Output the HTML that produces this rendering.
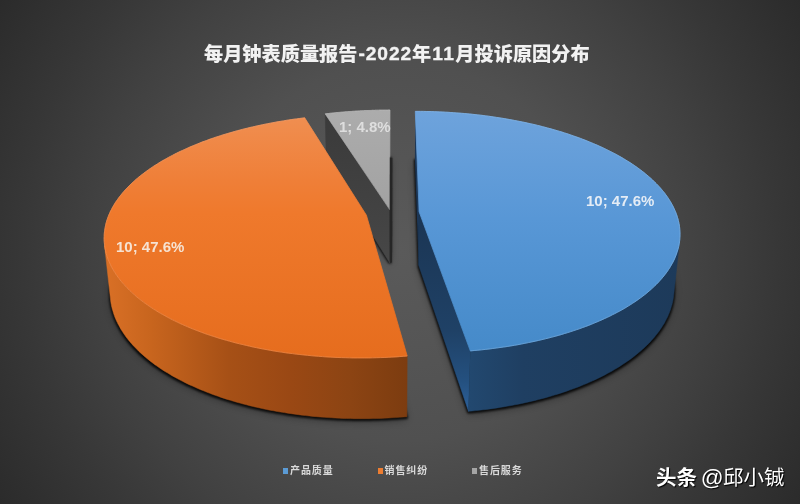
<!DOCTYPE html>
<html><head><meta charset="utf-8"><style>
html,body{margin:0;padding:0;background:#2b2b2b;}
#c{position:relative;width:800px;height:504px;overflow:hidden;}
svg{position:absolute;left:0;top:0;}
.t{position:absolute;white-space:nowrap;font-family:"Liberation Sans","Noto Sans CJK SC",sans-serif;}
#title{left:204px;top:43px;font-size:19.2px;font-weight:900;color:#f2f2f2;line-height:24px;}
.ls{letter-spacing:0.9px;margin-left:1px;position:relative;top:-0.8px;-webkit-text-stroke:0.35px #f2f2f2;}.ls2{letter-spacing:1.4px;margin-left:1px;position:relative;top:-0.8px;-webkit-text-stroke:0.35px #f2f2f2;}
.lbl{font-size:15px;font-weight:bold;line-height:16px;}
.lg{font-size:10px;color:#d9d9d9;line-height:12px;font-weight:bold;letter-spacing:0.9px;}
.sq{position:absolute;width:5px;height:6px;}
#wm{left:656px;top:466px;font-size:20.5px;color:#fff;line-height:24px;text-shadow:1px 1px 1px #000;}
</style></head><body><div id="c">
<svg width="800" height="504" viewBox="0 0 800 504">
<defs>
<filter id="sh0" x="-50%" y="-20%" width="200%" height="140%"><feGaussianBlur stdDeviation="0.6"/></filter>
<filter id="sh1" x="-20%" y="-20%" width="140%" height="140%"><feMorphology operator="dilate" radius="0.8"/><feGaussianBlur stdDeviation="1.1"/></filter>
<filter id="sh2" x="-20%" y="-20%" width="140%" height="140%"><feGaussianBlur stdDeviation="4"/></filter>
<linearGradient id="bTop" gradientUnits="userSpaceOnUse" x1="0" y1="110" x2="0" y2="352"><stop offset="0" stop-color="#6ea3dc"/><stop offset="0.45" stop-color="#5897d6"/><stop offset="1" stop-color="#458ac9"/></linearGradient>
<linearGradient id="bSide" gradientUnits="userSpaceOnUse" x1="470" y1="0" x2="680" y2="0"><stop offset="0" stop-color="#22486f"/><stop offset="0.25" stop-color="#1f3f62"/><stop offset="1" stop-color="#1d3a5a"/></linearGradient>
<linearGradient id="bCut" gradientUnits="userSpaceOnUse" x1="0" y1="212" x2="0" y2="410"><stop offset="0" stop-color="#1b3553"/><stop offset="0.6" stop-color="#1f4166"/><stop offset="0.85" stop-color="#24507f"/><stop offset="1" stop-color="#2c5f98"/></linearGradient>
<linearGradient id="oTop" gradientUnits="userSpaceOnUse" x1="0" y1="118" x2="0" y2="356"><stop offset="0" stop-color="#f08e50"/><stop offset="0.26" stop-color="#ef7f38"/><stop offset="0.4" stop-color="#ef792c"/><stop offset="1" stop-color="#e66d1e"/></linearGradient>
<linearGradient id="oSide" gradientUnits="userSpaceOnUse" x1="105" y1="0" x2="408" y2="0"><stop offset="0" stop-color="#d97026"/><stop offset="0.15" stop-color="#c8651e"/><stop offset="0.41" stop-color="#a65016"/><stop offset="0.61" stop-color="#9a4814"/><stop offset="0.81" stop-color="#8c4413"/><stop offset="1" stop-color="#7c3c10"/></linearGradient>
<linearGradient id="gTop" gradientUnits="userSpaceOnUse" x1="0" y1="110" x2="0" y2="209"><stop offset="0" stop-color="#acacac"/><stop offset="1" stop-color="#a2a2a2"/></linearGradient>
<linearGradient id="gCut" gradientUnits="userSpaceOnUse" x1="0" y1="115" x2="0" y2="262"><stop offset="0" stop-color="#3a3a3a"/><stop offset="1" stop-color="#474747"/></linearGradient>
<radialGradient id="bg" gradientUnits="userSpaceOnUse" cx="400" cy="252" r="473"><stop offset="0" stop-color="#5a5a5a"/><stop offset="0.4" stop-color="#505050"/><stop offset="0.5" stop-color="#4a4a4a"/><stop offset="0.65" stop-color="#414141"/><stop offset="0.8" stop-color="#373737"/><stop offset="1" stop-color="#2b2b2b"/></radialGradient>
</defs>
<rect width="800" height="504" fill="url(#bg)"/>
<g filter="url(#sh2)" fill="#000" fill-opacity="0.35">
<path d="M418.6,265.0 L414.9,158.9 417.6,158.9 420.3,158.9 423.0,158.9 425.7,159.0 428.3,159.0 431.0,159.1 433.7,159.2 436.4,159.3 439.1,159.4 441.8,159.6 444.4,159.7 447.1,159.9 449.8,160.1 452.5,160.3 455.1,160.5 457.8,160.7 460.5,160.9 463.1,161.2 465.8,161.4 468.4,161.7 471.1,162.0 473.7,162.3 476.3,162.6 479.0,162.9 481.6,163.3 484.2,163.6 486.8,164.0 489.4,164.4 492.0,164.8 494.6,165.2 497.2,165.7 499.8,166.1 502.4,166.6 505.0,167.0 507.5,167.5 510.1,168.0 512.6,168.5 515.1,169.1 517.7,169.6 520.2,170.2 522.7,170.7 525.2,171.3 527.7,171.9 530.1,172.5 532.6,173.1 535.1,173.8 537.5,174.4 539.9,175.1 542.4,175.8 544.8,176.5 547.2,177.2 549.6,177.9 551.9,178.6 554.3,179.4 556.6,180.1 559.0,180.9 561.3,181.7 563.6,182.5 565.9,183.3 568.1,184.1 570.4,185.0 572.6,185.8 574.9,186.7 577.1,187.6 579.3,188.5 581.5,189.4 583.6,190.3 585.8,191.2 587.9,192.2 590.0,193.1 592.1,194.1 594.2,195.1 596.2,196.1 598.3,197.1 600.3,198.1 602.3,199.2 604.3,200.2 606.2,201.3 608.2,202.3 610.1,203.4 612.0,204.5 613.8,205.6 615.7,206.8 617.5,207.9 619.3,209.0 621.1,210.2 622.9,211.4 624.6,212.5 626.3,213.7 628.0,214.9 629.7,216.1 631.3,217.4 632.9,218.6 634.5,219.9 636.1,221.1 637.6,222.4 639.1,223.7 640.6,225.0 642.0,226.3 643.5,227.6 644.9,228.9 646.2,230.2 647.6,231.6 648.9,232.9 650.2,234.3 651.4,235.7 652.7,237.1 653.9,238.5 655.0,239.9 656.2,241.3 657.3,242.7 658.3,244.1 659.4,245.6 660.4,247.0 661.3,248.5 662.3,249.9 663.2,251.4 664.1,252.9 664.9,254.4 665.7,255.9 666.5,257.4 667.2,258.9 667.9,260.4 668.6,261.9 669.2,263.5 669.8,265.0 670.3,266.6 670.9,268.1 671.3,269.7 671.8,271.2 672.2,272.8 672.6,274.4 672.9,276.0 673.2,277.5 673.4,279.1 673.6,280.7 673.8,282.3 673.9,283.9 674.0,285.5 674.1,287.1 674.1,288.8 674.0,290.4 674.0,292.0 673.9,293.6 673.7,295.2 673.5,296.9 673.3,298.5 673.0,300.1 672.7,301.7 672.3,303.4 671.9,305.0 671.4,306.6 670.9,308.3 670.4,309.9 669.8,311.5 669.2,313.1 668.5,314.8 667.8,316.4 667.0,318.0 666.2,319.6 665.3,321.3 664.5,322.9 663.5,324.5 662.5,326.1 661.5,327.7 660.4,329.3 659.3,330.9 658.1,332.5 656.9,334.1 655.7,335.6 654.4,337.2 653.0,338.8 651.6,340.3 650.2,341.9 648.7,343.4 647.2,345.0 645.6,346.5 644.0,348.0 642.3,349.5 640.6,351.1 638.8,352.5 637.0,354.0 635.2,355.5 633.3,357.0 631.4,358.4 629.4,359.9 627.4,361.3 625.3,362.7 623.2,364.1 621.1,365.5 618.9,366.9 616.7,368.3 614.4,369.6 612.1,371.0 609.7,372.3 607.3,373.6 604.9,374.9 602.4,376.2 599.9,377.4 597.3,378.7 594.7,379.9 592.1,381.1 589.4,382.3 586.7,383.5 583.9,384.6 581.1,385.8 578.3,386.9 575.4,388.0 572.5,389.1 569.6,390.1 566.6,391.2 563.6,392.2 560.6,393.2 557.5,394.2 554.4,395.1 551.3,396.1 548.1,397.0 544.9,397.9 541.7,398.7 538.4,399.6 535.2,400.4 531.8,401.2 528.5,402.0 525.1,402.7 521.8,403.5 518.3,404.2 514.9,404.8 511.5,405.5 508.0,406.1 504.5,406.7 501.0,407.3 497.4,407.9 493.8,408.4 490.3,408.9 486.7,409.4 483.1,409.8 479.4,410.2 475.8,410.6 472.1,411.0 468.5,411.3 Z" transform="translate(0 3)"/>
<path d="M366.9,268.8 L406.9,416.7 403.2,417.1 399.4,417.3 395.7,417.6 391.9,417.8 388.2,418.1 384.4,418.2 380.7,418.4 376.9,418.5 373.1,418.6 369.3,418.7 365.6,418.7 361.8,418.7 358.0,418.7 354.2,418.7 350.5,418.6 346.7,418.5 342.9,418.4 339.2,418.2 335.4,418.1 331.7,417.8 328.0,417.6 324.2,417.3 320.5,417.1 316.8,416.7 313.1,416.4 309.4,416.0 305.8,415.6 302.1,415.2 298.5,414.7 294.9,414.2 291.3,413.7 287.7,413.2 284.1,412.6 280.6,412.1 277.1,411.5 273.6,410.8 270.1,410.2 266.6,409.5 263.2,408.8 259.8,408.0 256.4,407.3 253.1,406.5 249.7,405.7 246.4,404.8 243.2,404.0 239.9,403.1 236.7,402.2 233.5,401.3 230.4,400.3 227.3,399.4 224.2,398.4 221.1,397.4 218.1,396.3 215.1,395.3 212.1,394.2 209.2,393.1 206.4,392.0 203.5,390.8 200.7,389.7 197.9,388.5 195.2,387.3 192.5,386.1 189.8,384.9 187.2,383.7 184.7,382.4 182.1,381.1 179.6,379.8 177.2,378.5 174.8,377.2 172.4,375.9 170.1,374.5 167.8,373.1 165.5,371.8 163.3,370.4 161.2,369.0 159.0,367.5 157.0,366.1 154.9,364.7 153.0,363.2 151.0,361.7 149.1,360.2 147.3,358.8 145.5,357.3 143.7,355.7 142.0,354.2 140.3,352.7 138.7,351.2 137.1,349.6 135.6,348.0 134.1,346.5 132.6,344.9 131.2,343.3 129.9,341.7 128.6,340.2 127.3,338.6 126.1,337.0 124.9,335.3 123.8,333.7 122.7,332.1 121.7,330.5 120.7,328.9 119.8,327.2 118.9,325.6 118.0,324.0 117.2,322.3 116.4,320.7 115.7,319.1 115.0,317.4 114.4,315.8 113.8,314.1 113.3,312.5 112.8,310.8 112.3,309.2 111.9,307.5 111.5,305.9 111.2,304.2 110.9,302.6 110.7,301.0 110.5,299.3 110.3,297.7 110.2,296.0 110.2,294.4 110.1,292.8 110.1,291.1 110.2,289.5 110.3,287.9 110.4,286.3 110.6,284.7 110.8,283.0 111.1,281.4 111.3,279.8 111.7,278.2 112.0,276.7 112.5,275.1 112.9,273.5 113.4,271.9 113.9,270.3 114.5,268.8 115.1,267.2 115.7,265.7 116.4,264.1 117.1,262.6 117.8,261.1 118.6,259.6 119.4,258.1 120.2,256.5 121.1,255.1 122.0,253.6 123.0,252.1 123.9,250.6 125.0,249.1 126.0,247.7 127.1,246.2 128.2,244.8 129.3,243.4 130.5,242.0 131.7,240.6 132.9,239.2 134.2,237.8 135.5,236.4 136.8,235.0 138.2,233.7 139.5,232.3 140.9,231.0 142.4,229.7 143.8,228.3 145.3,227.0 146.9,225.7 148.4,224.5 150.0,223.2 151.6,221.9 153.2,220.7 154.8,219.4 156.5,218.2 158.2,217.0 159.9,215.8 161.7,214.6 163.4,213.4 165.2,212.3 167.1,211.1 168.9,210.0 170.8,208.8 172.6,207.7 174.5,206.6 176.5,205.5 178.4,204.4 180.4,203.3 182.4,202.3 184.4,201.2 186.4,200.2 188.4,199.2 190.5,198.2 192.6,197.2 194.7,196.2 196.8,195.2 199.0,194.3 201.1,193.3 203.3,192.4 205.5,191.5 207.7,190.6 209.9,189.7 212.1,188.8 214.4,188.0 216.7,187.1 219.0,186.3 221.3,185.5 223.6,184.7 225.9,183.9 228.2,183.1 230.6,182.3 233.0,181.6 235.3,180.8 237.7,180.1 240.2,179.4 242.6,178.7 245.0,178.0 247.4,177.3 249.9,176.7 252.4,176.0 254.8,175.4 257.3,174.8 259.8,174.2 262.3,173.6 264.9,173.0 267.4,172.5 269.9,171.9 272.5,171.4 275.0,170.9 277.6,170.4 280.1,169.9 282.7,169.4 285.3,168.9 287.9,168.5 290.5,168.1 293.1,167.6 295.7,167.2 298.3,166.8 301.0,166.5 303.6,166.1 306.2,165.7 Z" transform="translate(0 3)"/>
<path d="M390.3,262.2 L326.9,160.9 327.2,160.8 327.4,160.8 327.7,160.8 328.0,160.7 328.2,160.7 328.5,160.7 328.7,160.6 329.0,160.6 329.3,160.6 329.5,160.5 329.8,160.5 330.1,160.5 330.3,160.4 330.6,160.4 330.8,160.4 331.1,160.4 331.4,160.3 331.6,160.3 331.9,160.3 332.1,160.2 332.4,160.2 332.7,160.2 332.9,160.1 333.2,160.1 333.5,160.1 333.7,160.0 334.0,160.0 334.2,160.0 334.5,160.0 334.8,159.9 335.0,159.9 335.3,159.9 335.6,159.8 335.8,159.8 336.1,159.8 336.3,159.7 336.6,159.7 336.9,159.7 337.1,159.7 337.4,159.6 337.7,159.6 337.9,159.6 338.2,159.6 338.5,159.5 338.7,159.5 339.0,159.5 339.2,159.4 339.5,159.4 339.8,159.4 340.0,159.4 340.3,159.3 340.6,159.3 340.8,159.3 341.1,159.3 341.4,159.2 341.6,159.2 341.9,159.2 342.1,159.2 342.4,159.1 342.7,159.1 342.9,159.1 343.2,159.1 343.5,159.0 343.7,159.0 344.0,159.0 344.3,159.0 344.5,158.9 344.8,158.9 345.0,158.9 345.3,158.9 345.6,158.8 345.8,158.8 346.1,158.8 346.4,158.8 346.6,158.7 346.9,158.7 347.2,158.7 347.4,158.7 347.7,158.6 348.0,158.6 348.2,158.6 348.5,158.6 348.8,158.6 349.0,158.5 349.3,158.5 349.5,158.5 349.8,158.5 350.1,158.4 350.3,158.4 350.6,158.4 350.9,158.4 351.1,158.4 351.4,158.3 351.7,158.3 351.9,158.3 352.2,158.3 352.5,158.3 352.7,158.2 353.0,158.2 353.3,158.2 353.5,158.2 353.8,158.2 354.1,158.1 354.3,158.1 354.6,158.1 354.9,158.1 355.1,158.1 355.4,158.1 355.7,158.0 355.9,158.0 356.2,158.0 356.5,158.0 356.7,158.0 357.0,157.9 357.2,157.9 357.5,157.9 357.8,157.9 358.0,157.9 358.3,157.9 358.6,157.8 358.8,157.8 359.1,157.8 359.4,157.8 359.6,157.8 359.9,157.8 360.2,157.7 360.4,157.7 360.7,157.7 361.0,157.7 361.2,157.7 361.5,157.7 361.8,157.6 362.0,157.6 362.3,157.6 362.6,157.6 362.8,157.6 363.1,157.6 363.4,157.6 363.6,157.5 363.9,157.5 364.2,157.5 364.4,157.5 364.7,157.5 365.0,157.5 365.2,157.5 365.5,157.4 365.8,157.4 366.0,157.4 366.3,157.4 366.6,157.4 366.8,157.4 367.1,157.4 367.4,157.4 367.6,157.3 367.9,157.3 368.2,157.3 368.4,157.3 368.7,157.3 369.0,157.3 369.2,157.3 369.5,157.3 369.8,157.3 370.0,157.2 370.3,157.2 370.6,157.2 370.8,157.2 371.1,157.2 371.4,157.2 371.6,157.2 371.9,157.2 372.2,157.2 372.4,157.2 372.7,157.1 373.0,157.1 373.3,157.1 373.5,157.1 373.8,157.1 374.1,157.1 374.3,157.1 374.6,157.1 374.9,157.1 375.1,157.1 375.4,157.1 375.7,157.0 375.9,157.0 376.2,157.0 376.5,157.0 376.7,157.0 377.0,157.0 377.3,157.0 377.5,157.0 377.8,157.0 378.1,157.0 378.3,157.0 378.6,157.0 378.9,157.0 379.1,157.0 379.4,156.9 379.7,156.9 379.9,156.9 380.2,156.9 380.5,156.9 380.7,156.9 381.0,156.9 381.3,156.9 381.5,156.9 381.8,156.9 382.1,156.9 382.3,156.9 382.6,156.9 382.9,156.9 383.2,156.9 383.4,156.9 383.7,156.9 384.0,156.9 384.2,156.9 384.5,156.9 384.8,156.9 385.0,156.9 385.3,156.9 385.6,156.9 385.8,156.8 386.1,156.8 386.4,156.8 386.6,156.8 386.9,156.8 387.2,156.8 387.4,156.8 387.7,156.8 388.0,156.8 388.2,156.8 388.5,156.8 388.8,156.8 389.0,156.8 389.3,156.8 389.6,156.8 389.8,156.8 390.1,156.8 390.4,156.8 390.6,156.8 Z" transform="translate(0 3)"/>
</g>
<g filter="url(#sh1)" fill="#000" fill-opacity="0.85">
<path d="M418.6,265.0 L414.9,158.9 417.6,158.9 420.3,158.9 423.0,158.9 425.7,159.0 428.3,159.0 431.0,159.1 433.7,159.2 436.4,159.3 439.1,159.4 441.8,159.6 444.4,159.7 447.1,159.9 449.8,160.1 452.5,160.3 455.1,160.5 457.8,160.7 460.5,160.9 463.1,161.2 465.8,161.4 468.4,161.7 471.1,162.0 473.7,162.3 476.3,162.6 479.0,162.9 481.6,163.3 484.2,163.6 486.8,164.0 489.4,164.4 492.0,164.8 494.6,165.2 497.2,165.7 499.8,166.1 502.4,166.6 505.0,167.0 507.5,167.5 510.1,168.0 512.6,168.5 515.1,169.1 517.7,169.6 520.2,170.2 522.7,170.7 525.2,171.3 527.7,171.9 530.1,172.5 532.6,173.1 535.1,173.8 537.5,174.4 539.9,175.1 542.4,175.8 544.8,176.5 547.2,177.2 549.6,177.9 551.9,178.6 554.3,179.4 556.6,180.1 559.0,180.9 561.3,181.7 563.6,182.5 565.9,183.3 568.1,184.1 570.4,185.0 572.6,185.8 574.9,186.7 577.1,187.6 579.3,188.5 581.5,189.4 583.6,190.3 585.8,191.2 587.9,192.2 590.0,193.1 592.1,194.1 594.2,195.1 596.2,196.1 598.3,197.1 600.3,198.1 602.3,199.2 604.3,200.2 606.2,201.3 608.2,202.3 610.1,203.4 612.0,204.5 613.8,205.6 615.7,206.8 617.5,207.9 619.3,209.0 621.1,210.2 622.9,211.4 624.6,212.5 626.3,213.7 628.0,214.9 629.7,216.1 631.3,217.4 632.9,218.6 634.5,219.9 636.1,221.1 637.6,222.4 639.1,223.7 640.6,225.0 642.0,226.3 643.5,227.6 644.9,228.9 646.2,230.2 647.6,231.6 648.9,232.9 650.2,234.3 651.4,235.7 652.7,237.1 653.9,238.5 655.0,239.9 656.2,241.3 657.3,242.7 658.3,244.1 659.4,245.6 660.4,247.0 661.3,248.5 662.3,249.9 663.2,251.4 664.1,252.9 664.9,254.4 665.7,255.9 666.5,257.4 667.2,258.9 667.9,260.4 668.6,261.9 669.2,263.5 669.8,265.0 670.3,266.6 670.9,268.1 671.3,269.7 671.8,271.2 672.2,272.8 672.6,274.4 672.9,276.0 673.2,277.5 673.4,279.1 673.6,280.7 673.8,282.3 673.9,283.9 674.0,285.5 674.1,287.1 674.1,288.8 674.0,290.4 674.0,292.0 673.9,293.6 673.7,295.2 673.5,296.9 673.3,298.5 673.0,300.1 672.7,301.7 672.3,303.4 671.9,305.0 671.4,306.6 670.9,308.3 670.4,309.9 669.8,311.5 669.2,313.1 668.5,314.8 667.8,316.4 667.0,318.0 666.2,319.6 665.3,321.3 664.5,322.9 663.5,324.5 662.5,326.1 661.5,327.7 660.4,329.3 659.3,330.9 658.1,332.5 656.9,334.1 655.7,335.6 654.4,337.2 653.0,338.8 651.6,340.3 650.2,341.9 648.7,343.4 647.2,345.0 645.6,346.5 644.0,348.0 642.3,349.5 640.6,351.1 638.8,352.5 637.0,354.0 635.2,355.5 633.3,357.0 631.4,358.4 629.4,359.9 627.4,361.3 625.3,362.7 623.2,364.1 621.1,365.5 618.9,366.9 616.7,368.3 614.4,369.6 612.1,371.0 609.7,372.3 607.3,373.6 604.9,374.9 602.4,376.2 599.9,377.4 597.3,378.7 594.7,379.9 592.1,381.1 589.4,382.3 586.7,383.5 583.9,384.6 581.1,385.8 578.3,386.9 575.4,388.0 572.5,389.1 569.6,390.1 566.6,391.2 563.6,392.2 560.6,393.2 557.5,394.2 554.4,395.1 551.3,396.1 548.1,397.0 544.9,397.9 541.7,398.7 538.4,399.6 535.2,400.4 531.8,401.2 528.5,402.0 525.1,402.7 521.8,403.5 518.3,404.2 514.9,404.8 511.5,405.5 508.0,406.1 504.5,406.7 501.0,407.3 497.4,407.9 493.8,408.4 490.3,408.9 486.7,409.4 483.1,409.8 479.4,410.2 475.8,410.6 472.1,411.0 468.5,411.3 Z" transform="translate(0 1.2)"/>
<path d="M366.9,268.8 L406.9,416.7 403.2,417.1 399.4,417.3 395.7,417.6 391.9,417.8 388.2,418.1 384.4,418.2 380.7,418.4 376.9,418.5 373.1,418.6 369.3,418.7 365.6,418.7 361.8,418.7 358.0,418.7 354.2,418.7 350.5,418.6 346.7,418.5 342.9,418.4 339.2,418.2 335.4,418.1 331.7,417.8 328.0,417.6 324.2,417.3 320.5,417.1 316.8,416.7 313.1,416.4 309.4,416.0 305.8,415.6 302.1,415.2 298.5,414.7 294.9,414.2 291.3,413.7 287.7,413.2 284.1,412.6 280.6,412.1 277.1,411.5 273.6,410.8 270.1,410.2 266.6,409.5 263.2,408.8 259.8,408.0 256.4,407.3 253.1,406.5 249.7,405.7 246.4,404.8 243.2,404.0 239.9,403.1 236.7,402.2 233.5,401.3 230.4,400.3 227.3,399.4 224.2,398.4 221.1,397.4 218.1,396.3 215.1,395.3 212.1,394.2 209.2,393.1 206.4,392.0 203.5,390.8 200.7,389.7 197.9,388.5 195.2,387.3 192.5,386.1 189.8,384.9 187.2,383.7 184.7,382.4 182.1,381.1 179.6,379.8 177.2,378.5 174.8,377.2 172.4,375.9 170.1,374.5 167.8,373.1 165.5,371.8 163.3,370.4 161.2,369.0 159.0,367.5 157.0,366.1 154.9,364.7 153.0,363.2 151.0,361.7 149.1,360.2 147.3,358.8 145.5,357.3 143.7,355.7 142.0,354.2 140.3,352.7 138.7,351.2 137.1,349.6 135.6,348.0 134.1,346.5 132.6,344.9 131.2,343.3 129.9,341.7 128.6,340.2 127.3,338.6 126.1,337.0 124.9,335.3 123.8,333.7 122.7,332.1 121.7,330.5 120.7,328.9 119.8,327.2 118.9,325.6 118.0,324.0 117.2,322.3 116.4,320.7 115.7,319.1 115.0,317.4 114.4,315.8 113.8,314.1 113.3,312.5 112.8,310.8 112.3,309.2 111.9,307.5 111.5,305.9 111.2,304.2 110.9,302.6 110.7,301.0 110.5,299.3 110.3,297.7 110.2,296.0 110.2,294.4 110.1,292.8 110.1,291.1 110.2,289.5 110.3,287.9 110.4,286.3 110.6,284.7 110.8,283.0 111.1,281.4 111.3,279.8 111.7,278.2 112.0,276.7 112.5,275.1 112.9,273.5 113.4,271.9 113.9,270.3 114.5,268.8 115.1,267.2 115.7,265.7 116.4,264.1 117.1,262.6 117.8,261.1 118.6,259.6 119.4,258.1 120.2,256.5 121.1,255.1 122.0,253.6 123.0,252.1 123.9,250.6 125.0,249.1 126.0,247.7 127.1,246.2 128.2,244.8 129.3,243.4 130.5,242.0 131.7,240.6 132.9,239.2 134.2,237.8 135.5,236.4 136.8,235.0 138.2,233.7 139.5,232.3 140.9,231.0 142.4,229.7 143.8,228.3 145.3,227.0 146.9,225.7 148.4,224.5 150.0,223.2 151.6,221.9 153.2,220.7 154.8,219.4 156.5,218.2 158.2,217.0 159.9,215.8 161.7,214.6 163.4,213.4 165.2,212.3 167.1,211.1 168.9,210.0 170.8,208.8 172.6,207.7 174.5,206.6 176.5,205.5 178.4,204.4 180.4,203.3 182.4,202.3 184.4,201.2 186.4,200.2 188.4,199.2 190.5,198.2 192.6,197.2 194.7,196.2 196.8,195.2 199.0,194.3 201.1,193.3 203.3,192.4 205.5,191.5 207.7,190.6 209.9,189.7 212.1,188.8 214.4,188.0 216.7,187.1 219.0,186.3 221.3,185.5 223.6,184.7 225.9,183.9 228.2,183.1 230.6,182.3 233.0,181.6 235.3,180.8 237.7,180.1 240.2,179.4 242.6,178.7 245.0,178.0 247.4,177.3 249.9,176.7 252.4,176.0 254.8,175.4 257.3,174.8 259.8,174.2 262.3,173.6 264.9,173.0 267.4,172.5 269.9,171.9 272.5,171.4 275.0,170.9 277.6,170.4 280.1,169.9 282.7,169.4 285.3,168.9 287.9,168.5 290.5,168.1 293.1,167.6 295.7,167.2 298.3,166.8 301.0,166.5 303.6,166.1 306.2,165.7 Z" transform="translate(0 1.2)"/>
<path d="M390.3,262.2 L326.9,160.9 327.2,160.8 327.4,160.8 327.7,160.8 328.0,160.7 328.2,160.7 328.5,160.7 328.7,160.6 329.0,160.6 329.3,160.6 329.5,160.5 329.8,160.5 330.1,160.5 330.3,160.4 330.6,160.4 330.8,160.4 331.1,160.4 331.4,160.3 331.6,160.3 331.9,160.3 332.1,160.2 332.4,160.2 332.7,160.2 332.9,160.1 333.2,160.1 333.5,160.1 333.7,160.0 334.0,160.0 334.2,160.0 334.5,160.0 334.8,159.9 335.0,159.9 335.3,159.9 335.6,159.8 335.8,159.8 336.1,159.8 336.3,159.7 336.6,159.7 336.9,159.7 337.1,159.7 337.4,159.6 337.7,159.6 337.9,159.6 338.2,159.6 338.5,159.5 338.7,159.5 339.0,159.5 339.2,159.4 339.5,159.4 339.8,159.4 340.0,159.4 340.3,159.3 340.6,159.3 340.8,159.3 341.1,159.3 341.4,159.2 341.6,159.2 341.9,159.2 342.1,159.2 342.4,159.1 342.7,159.1 342.9,159.1 343.2,159.1 343.5,159.0 343.7,159.0 344.0,159.0 344.3,159.0 344.5,158.9 344.8,158.9 345.0,158.9 345.3,158.9 345.6,158.8 345.8,158.8 346.1,158.8 346.4,158.8 346.6,158.7 346.9,158.7 347.2,158.7 347.4,158.7 347.7,158.6 348.0,158.6 348.2,158.6 348.5,158.6 348.8,158.6 349.0,158.5 349.3,158.5 349.5,158.5 349.8,158.5 350.1,158.4 350.3,158.4 350.6,158.4 350.9,158.4 351.1,158.4 351.4,158.3 351.7,158.3 351.9,158.3 352.2,158.3 352.5,158.3 352.7,158.2 353.0,158.2 353.3,158.2 353.5,158.2 353.8,158.2 354.1,158.1 354.3,158.1 354.6,158.1 354.9,158.1 355.1,158.1 355.4,158.1 355.7,158.0 355.9,158.0 356.2,158.0 356.5,158.0 356.7,158.0 357.0,157.9 357.2,157.9 357.5,157.9 357.8,157.9 358.0,157.9 358.3,157.9 358.6,157.8 358.8,157.8 359.1,157.8 359.4,157.8 359.6,157.8 359.9,157.8 360.2,157.7 360.4,157.7 360.7,157.7 361.0,157.7 361.2,157.7 361.5,157.7 361.8,157.6 362.0,157.6 362.3,157.6 362.6,157.6 362.8,157.6 363.1,157.6 363.4,157.6 363.6,157.5 363.9,157.5 364.2,157.5 364.4,157.5 364.7,157.5 365.0,157.5 365.2,157.5 365.5,157.4 365.8,157.4 366.0,157.4 366.3,157.4 366.6,157.4 366.8,157.4 367.1,157.4 367.4,157.4 367.6,157.3 367.9,157.3 368.2,157.3 368.4,157.3 368.7,157.3 369.0,157.3 369.2,157.3 369.5,157.3 369.8,157.3 370.0,157.2 370.3,157.2 370.6,157.2 370.8,157.2 371.1,157.2 371.4,157.2 371.6,157.2 371.9,157.2 372.2,157.2 372.4,157.2 372.7,157.1 373.0,157.1 373.3,157.1 373.5,157.1 373.8,157.1 374.1,157.1 374.3,157.1 374.6,157.1 374.9,157.1 375.1,157.1 375.4,157.1 375.7,157.0 375.9,157.0 376.2,157.0 376.5,157.0 376.7,157.0 377.0,157.0 377.3,157.0 377.5,157.0 377.8,157.0 378.1,157.0 378.3,157.0 378.6,157.0 378.9,157.0 379.1,157.0 379.4,156.9 379.7,156.9 379.9,156.9 380.2,156.9 380.5,156.9 380.7,156.9 381.0,156.9 381.3,156.9 381.5,156.9 381.8,156.9 382.1,156.9 382.3,156.9 382.6,156.9 382.9,156.9 383.2,156.9 383.4,156.9 383.7,156.9 384.0,156.9 384.2,156.9 384.5,156.9 384.8,156.9 385.0,156.9 385.3,156.9 385.6,156.9 385.8,156.8 386.1,156.8 386.4,156.8 386.6,156.8 386.9,156.8 387.2,156.8 387.4,156.8 387.7,156.8 388.0,156.8 388.2,156.8 388.5,156.8 388.8,156.8 389.0,156.8 389.3,156.8 389.6,156.8 389.8,156.8 390.1,156.8 390.4,156.8 390.6,156.8 Z" transform="translate(0 1.2)"/>
</g>
<g transform="translate(-0.6 0.6)">
<path d="M390.3,209.0 325.8,113.3 326.9,160.9 390.3,262.2 Z" fill="url(#gCut)" stroke="url(#gCut)" stroke-width="0.6"/>
<path d="M390.3,209.0 L325.8,113.3 326.0,113.2 326.3,113.2 326.6,113.2 326.8,113.1 327.1,113.1 327.4,113.1 327.6,113.0 327.9,113.0 328.2,113.0 328.4,112.9 328.7,112.9 329.0,112.9 329.2,112.9 329.5,112.8 329.8,112.8 330.0,112.8 330.3,112.7 330.6,112.7 330.8,112.7 331.1,112.6 331.4,112.6 331.6,112.6 331.9,112.6 332.2,112.5 332.4,112.5 332.7,112.5 333.0,112.4 333.2,112.4 333.5,112.4 333.8,112.4 334.0,112.3 334.3,112.3 334.6,112.3 334.8,112.3 335.1,112.2 335.4,112.2 335.6,112.2 335.9,112.1 336.2,112.1 336.4,112.1 336.7,112.1 337.0,112.0 337.2,112.0 337.5,112.0 337.8,112.0 338.0,111.9 338.3,111.9 338.6,111.9 338.8,111.9 339.1,111.8 339.4,111.8 339.7,111.8 339.9,111.8 340.2,111.7 340.5,111.7 340.7,111.7 341.0,111.7 341.3,111.6 341.5,111.6 341.8,111.6 342.1,111.6 342.3,111.5 342.6,111.5 342.9,111.5 343.1,111.5 343.4,111.5 343.7,111.4 343.9,111.4 344.2,111.4 344.5,111.4 344.8,111.3 345.0,111.3 345.3,111.3 345.6,111.3 345.8,111.2 346.1,111.2 346.4,111.2 346.6,111.2 346.9,111.2 347.2,111.1 347.4,111.1 347.7,111.1 348.0,111.1 348.3,111.1 348.5,111.0 348.8,111.0 349.1,111.0 349.3,111.0 349.6,111.0 349.9,110.9 350.1,110.9 350.4,110.9 350.7,110.9 351.0,110.9 351.2,110.8 351.5,110.8 351.8,110.8 352.0,110.8 352.3,110.8 352.6,110.7 352.8,110.7 353.1,110.7 353.4,110.7 353.7,110.7 353.9,110.7 354.2,110.6 354.5,110.6 354.7,110.6 355.0,110.6 355.3,110.6 355.5,110.5 355.8,110.5 356.1,110.5 356.4,110.5 356.6,110.5 356.9,110.5 357.2,110.4 357.4,110.4 357.7,110.4 358.0,110.4 358.3,110.4 358.5,110.4 358.8,110.4 359.1,110.3 359.3,110.3 359.6,110.3 359.9,110.3 360.2,110.3 360.4,110.3 360.7,110.2 361.0,110.2 361.2,110.2 361.5,110.2 361.8,110.2 362.0,110.2 362.3,110.2 362.6,110.1 362.9,110.1 363.1,110.1 363.4,110.1 363.7,110.1 363.9,110.1 364.2,110.1 364.5,110.1 364.8,110.0 365.0,110.0 365.3,110.0 365.6,110.0 365.8,110.0 366.1,110.0 366.4,110.0 366.7,110.0 366.9,109.9 367.2,109.9 367.5,109.9 367.7,109.9 368.0,109.9 368.3,109.9 368.6,109.9 368.8,109.9 369.1,109.9 369.4,109.8 369.7,109.8 369.9,109.8 370.2,109.8 370.5,109.8 370.7,109.8 371.0,109.8 371.3,109.8 371.6,109.8 371.8,109.8 372.1,109.8 372.4,109.7 372.6,109.7 372.9,109.7 373.2,109.7 373.5,109.7 373.7,109.7 374.0,109.7 374.3,109.7 374.5,109.7 374.8,109.7 375.1,109.7 375.4,109.7 375.6,109.6 375.9,109.6 376.2,109.6 376.5,109.6 376.7,109.6 377.0,109.6 377.3,109.6 377.5,109.6 377.8,109.6 378.1,109.6 378.4,109.6 378.6,109.6 378.9,109.6 379.2,109.6 379.4,109.6 379.7,109.6 380.0,109.5 380.3,109.5 380.5,109.5 380.8,109.5 381.1,109.5 381.4,109.5 381.6,109.5 381.9,109.5 382.2,109.5 382.4,109.5 382.7,109.5 383.0,109.5 383.3,109.5 383.5,109.5 383.8,109.5 384.1,109.5 384.3,109.5 384.6,109.5 384.9,109.5 385.2,109.5 385.4,109.5 385.7,109.5 386.0,109.5 386.3,109.5 386.5,109.5 386.8,109.5 387.1,109.5 387.3,109.5 387.6,109.5 387.9,109.5 388.2,109.5 388.4,109.5 388.7,109.4 389.0,109.4 389.3,109.4 389.5,109.4 389.8,109.4 390.1,109.4 390.3,109.4 390.6,109.4 Z" fill="url(#gTop)" stroke="url(#gTop)" stroke-width="0.7" stroke-linejoin="round"/>
</g>
<path d="M389.8,157.5 L392.4,158 L392.0,262.5 L389.7,262.5 Z" fill="#262626" filter="url(#sh0)"/>
<path d="M419.1,211.7 415.3,111.4 414.9,158.9 418.6,265.0 Z" fill="#1c3757"/>
<path d="M419.1,211.7 470.3,350.9 468.5,411.3 418.6,265.0 Z" fill="url(#bCut)" stroke="url(#bCut)" stroke-width="0.5"/>
<path d="M679.7,240.3 679.5,241.9 679.3,243.4 679.0,244.9 678.7,246.5 678.3,248.0 677.9,249.6 677.4,251.1 676.9,252.7 676.4,254.2 675.8,255.8 675.2,257.3 674.5,258.9 673.8,260.4 673.0,262.0 672.2,263.5 671.3,265.0 670.4,266.6 669.5,268.1 668.5,269.6 667.5,271.1 666.4,272.7 665.2,274.2 664.1,275.7 662.8,277.2 661.6,278.7 660.2,280.2 658.9,281.7 657.5,283.2 656.0,284.7 654.5,286.1 652.9,287.6 651.3,289.1 649.7,290.5 648.0,291.9 646.3,293.4 644.5,294.8 642.7,296.2 640.8,297.6 638.9,299.0 636.9,300.4 634.9,301.8 632.8,303.1 630.7,304.5 628.6,305.8 626.4,307.2 624.2,308.5 621.9,309.8 619.6,311.1 617.2,312.3 614.8,313.6 612.3,314.8 609.9,316.1 607.3,317.3 604.7,318.5 602.1,319.7 599.5,320.8 596.8,322.0 594.0,323.1 591.3,324.3 588.5,325.4 585.6,326.5 582.7,327.5 579.8,328.6 576.8,329.6 573.8,330.6 570.8,331.6 567.7,332.6 564.6,333.5 561.5,334.5 558.3,335.4 555.1,336.3 551.9,337.1 548.6,338.0 545.3,338.8 542.0,339.6 538.6,340.4 535.2,341.2 531.8,341.9 528.4,342.6 524.9,343.3 521.4,344.0 517.9,344.7 514.4,345.3 510.8,345.9 507.2,346.5 503.6,347.0 500.0,347.5 496.3,348.0 492.7,348.5 489.0,349.0 485.3,349.4 481.6,349.8 477.8,350.2 474.1,350.5 470.3,350.9 L468.5,411.3 472.1,411.0 475.8,410.6 479.4,410.2 483.1,409.8 486.7,409.4 490.3,408.9 493.8,408.4 497.4,407.9 501.0,407.3 504.5,406.7 508.0,406.1 511.5,405.5 514.9,404.8 518.3,404.2 521.8,403.5 525.1,402.7 528.5,402.0 531.8,401.2 535.2,400.4 538.4,399.6 541.7,398.7 544.9,397.9 548.1,397.0 551.3,396.1 554.4,395.1 557.5,394.2 560.6,393.2 563.6,392.2 566.6,391.2 569.6,390.1 572.5,389.1 575.4,388.0 578.3,386.9 581.1,385.8 583.9,384.6 586.7,383.5 589.4,382.3 592.1,381.1 594.7,379.9 597.3,378.7 599.9,377.4 602.4,376.2 604.9,374.9 607.3,373.6 609.7,372.3 612.1,371.0 614.4,369.6 616.7,368.3 618.9,366.9 621.1,365.5 623.2,364.1 625.3,362.7 627.4,361.3 629.4,359.9 631.4,358.4 633.3,357.0 635.2,355.5 637.0,354.0 638.8,352.5 640.6,351.1 642.3,349.5 644.0,348.0 645.6,346.5 647.2,345.0 648.7,343.4 650.2,341.9 651.6,340.3 653.0,338.8 654.4,337.2 655.7,335.6 656.9,334.1 658.1,332.5 659.3,330.9 660.4,329.3 661.5,327.7 662.5,326.1 663.5,324.5 664.5,322.9 665.3,321.3 666.2,319.6 667.0,318.0 667.8,316.4 668.5,314.8 669.2,313.1 669.8,311.5 670.4,309.9 670.9,308.3 671.4,306.6 671.9,305.0 672.3,303.4 672.7,301.7 673.0,300.1 673.3,298.5 673.5,296.9 673.7,295.2 Z" fill="url(#bSide)" stroke="url(#bSide)" stroke-width="0.5"/>
<path d="M419.1,211.7 L415.3,111.4 418.0,111.4 420.8,111.4 423.5,111.4 426.2,111.5 429.0,111.5 431.7,111.6 434.4,111.7 437.2,111.8 439.9,111.9 442.6,112.0 445.3,112.2 448.1,112.3 450.8,112.5 453.5,112.7 456.2,112.9 458.9,113.1 461.6,113.3 464.4,113.5 467.1,113.8 469.7,114.0 472.4,114.3 475.1,114.6 477.8,114.9 480.5,115.2 483.2,115.5 485.8,115.9 488.5,116.2 491.2,116.6 493.8,117.0 496.4,117.4 499.1,117.8 501.7,118.2 504.3,118.6 506.9,119.1 509.5,119.5 512.1,120.0 514.7,120.5 517.3,121.0 519.9,121.5 522.4,122.0 525.0,122.5 527.5,123.1 530.1,123.7 532.6,124.2 535.1,124.8 537.6,125.4 540.1,126.0 542.6,126.7 545.0,127.3 547.5,128.0 549.9,128.6 552.4,129.3 554.8,130.0 557.2,130.7 559.6,131.4 562.0,132.1 564.3,132.9 566.7,133.6 569.0,134.4 571.3,135.2 573.6,136.0 575.9,136.8 578.2,137.6 580.5,138.4 582.7,139.3 584.9,140.1 587.1,141.0 589.3,141.9 591.5,142.8 593.6,143.7 595.8,144.6 597.9,145.5 600.0,146.5 602.1,147.4 604.1,148.4 606.2,149.4 608.2,150.4 610.2,151.4 612.2,152.4 614.1,153.4 616.1,154.4 618.0,155.5 619.9,156.5 621.8,157.6 623.6,158.7 625.4,159.8 627.2,160.9 629.0,162.0 630.8,163.1 632.5,164.3 634.2,165.4 635.9,166.6 637.5,167.7 639.1,168.9 640.7,170.1 642.3,171.3 643.9,172.5 645.4,173.8 646.9,175.0 648.3,176.2 649.8,177.5 651.2,178.7 652.6,180.0 653.9,181.3 655.2,182.6 656.5,183.9 657.8,185.2 659.0,186.5 660.2,187.8 661.4,189.2 662.5,190.5 663.6,191.9 664.7,193.2 665.7,194.6 666.7,196.0 667.7,197.4 668.6,198.8 669.5,200.2 670.4,201.6 671.2,203.0 672.0,204.4 672.8,205.9 673.5,207.3 674.2,208.8 674.8,210.2 675.5,211.7 676.0,213.1 676.6,214.6 677.1,216.1 677.5,217.6 678.0,219.0 678.3,220.5 678.7,222.0 679.0,223.5 679.3,225.0 679.5,226.6 679.7,228.1 679.8,229.6 679.9,231.1 680.0,232.6 680.0,234.2 680.0,235.7 679.9,237.2 679.8,238.8 679.7,240.3 679.5,241.9 679.3,243.4 679.0,244.9 678.7,246.5 678.3,248.0 677.9,249.6 677.4,251.1 676.9,252.7 676.4,254.2 675.8,255.8 675.2,257.3 674.5,258.9 673.8,260.4 673.0,262.0 672.2,263.5 671.3,265.0 670.4,266.6 669.5,268.1 668.5,269.6 667.5,271.1 666.4,272.7 665.2,274.2 664.1,275.7 662.8,277.2 661.6,278.7 660.2,280.2 658.9,281.7 657.5,283.2 656.0,284.7 654.5,286.1 652.9,287.6 651.3,289.1 649.7,290.5 648.0,291.9 646.3,293.4 644.5,294.8 642.7,296.2 640.8,297.6 638.9,299.0 636.9,300.4 634.9,301.8 632.8,303.1 630.7,304.5 628.6,305.8 626.4,307.2 624.2,308.5 621.9,309.8 619.6,311.1 617.2,312.3 614.8,313.6 612.3,314.8 609.9,316.1 607.3,317.3 604.7,318.5 602.1,319.7 599.5,320.8 596.8,322.0 594.0,323.1 591.3,324.3 588.5,325.4 585.6,326.5 582.7,327.5 579.8,328.6 576.8,329.6 573.8,330.6 570.8,331.6 567.7,332.6 564.6,333.5 561.5,334.5 558.3,335.4 555.1,336.3 551.9,337.1 548.6,338.0 545.3,338.8 542.0,339.6 538.6,340.4 535.2,341.2 531.8,341.9 528.4,342.6 524.9,343.3 521.4,344.0 517.9,344.7 514.4,345.3 510.8,345.9 507.2,346.5 503.6,347.0 500.0,347.5 496.3,348.0 492.7,348.5 489.0,349.0 485.3,349.4 481.6,349.8 477.8,350.2 474.1,350.5 470.3,350.9 Z" fill="url(#bTop)" stroke="url(#bTop)" stroke-width="0.8" stroke-linejoin="round"/>
<path d="M415.3,111.4 418.0,111.4 420.8,111.4 423.5,111.4 426.2,111.5 429.0,111.5 431.7,111.6 434.4,111.7 437.2,111.8 439.9,111.9 442.6,112.0 445.3,112.2 448.1,112.3 450.8,112.5 453.5,112.7 456.2,112.9 458.9,113.1 461.6,113.3 464.4,113.5 467.1,113.8 469.7,114.0 472.4,114.3 475.1,114.6 477.8,114.9 480.5,115.2 483.2,115.5 485.8,115.9 488.5,116.2 491.2,116.6 493.8,117.0 496.4,117.4 499.1,117.8 501.7,118.2 504.3,118.6 506.9,119.1 509.5,119.5 512.1,120.0 514.7,120.5 517.3,121.0 519.9,121.5 522.4,122.0 525.0,122.5 527.5,123.1 530.1,123.7 532.6,124.2 535.1,124.8 537.6,125.4 540.1,126.0 542.6,126.7 545.0,127.3 547.5,128.0 549.9,128.6 552.4,129.3 554.8,130.0 557.2,130.7 559.6,131.4 562.0,132.1 564.3,132.9 566.7,133.6 569.0,134.4 571.3,135.2 573.6,136.0 575.9,136.8 578.2,137.6 580.5,138.4 582.7,139.3 584.9,140.1 587.1,141.0 589.3,141.9 591.5,142.8 593.6,143.7 595.8,144.6 597.9,145.5 600.0,146.5 602.1,147.4 604.1,148.4 606.2,149.4 608.2,150.4 610.2,151.4 612.2,152.4 614.1,153.4 616.1,154.4 618.0,155.5 619.9,156.5 621.8,157.6 623.6,158.7 625.4,159.8 627.2,160.9 629.0,162.0 630.8,163.1 632.5,164.3 634.2,165.4 635.9,166.6 637.5,167.7 639.1,168.9 640.7,170.1 642.3,171.3 643.9,172.5 645.4,173.8 646.9,175.0 648.3,176.2 649.8,177.5 651.2,178.7 652.6,180.0 653.9,181.3 655.2,182.6 656.5,183.9 657.8,185.2 659.0,186.5 660.2,187.8 661.4,189.2 662.5,190.5 663.6,191.9 664.7,193.2 665.7,194.6 666.7,196.0 667.7,197.4 668.6,198.8 669.5,200.2 670.4,201.6 671.2,203.0 672.0,204.4 672.8,205.9 673.5,207.3 674.2,208.8 674.8,210.2 675.5,211.7 676.0,213.1 676.6,214.6 677.1,216.1 677.5,217.6 678.0,219.0 678.3,220.5 678.7,222.0 679.0,223.5 679.3,225.0 679.5,226.6 679.7,228.1 679.8,229.6 679.9,231.1 680.0,232.6 680.0,234.2 680.0,235.7 679.9,237.2 679.8,238.8 679.7,240.3 679.5,241.9 679.3,243.4 679.0,244.9 678.7,246.5 678.3,248.0 677.9,249.6 677.4,251.1 676.9,252.7 676.4,254.2 675.8,255.8 675.2,257.3 674.5,258.9 673.8,260.4 673.0,262.0 672.2,263.5 671.3,265.0 670.4,266.6 669.5,268.1 668.5,269.6 667.5,271.1 666.4,272.7 665.2,274.2 664.1,275.7 662.8,277.2 661.6,278.7 660.2,280.2 658.9,281.7 657.5,283.2 656.0,284.7 654.5,286.1 652.9,287.6 651.3,289.1 649.7,290.5 648.0,291.9 646.3,293.4 644.5,294.8 642.7,296.2 640.8,297.6 638.9,299.0 636.9,300.4 634.9,301.8 632.8,303.1 630.7,304.5 628.6,305.8 626.4,307.2 624.2,308.5 621.9,309.8 619.6,311.1 617.2,312.3 614.8,313.6 612.3,314.8 609.9,316.1 607.3,317.3 604.7,318.5 602.1,319.7 599.5,320.8 596.8,322.0 594.0,323.1 591.3,324.3 588.5,325.4 585.6,326.5 582.7,327.5 579.8,328.6 576.8,329.6 573.8,330.6 570.8,331.6 567.7,332.6 564.6,333.5 561.5,334.5 558.3,335.4 555.1,336.3 551.9,337.1 548.6,338.0 545.3,338.8 542.0,339.6 538.6,340.4 535.2,341.2 531.8,341.9 528.4,342.6 524.9,343.3 521.4,344.0 517.9,344.7 514.4,345.3 510.8,345.9 507.2,346.5 503.6,347.0 500.0,347.5 496.3,348.0 492.7,348.5 489.0,349.0 485.3,349.4 481.6,349.8 477.8,350.2 474.1,350.5 470.3,350.9" fill="none" stroke="#8fc0f0" stroke-opacity="0.45" stroke-width="1"/>
<path d="M407.2,356.0 403.4,356.3 399.6,356.6 395.8,356.9 391.9,357.1 388.1,357.3 384.2,357.5 380.4,357.6 376.5,357.7 372.6,357.8 368.8,357.9 364.9,357.9 361.0,357.9 357.2,357.9 353.3,357.9 349.4,357.8 345.6,357.7 341.7,357.6 337.9,357.5 334.0,357.3 330.2,357.1 326.4,356.9 322.5,356.6 318.7,356.3 314.9,356.0 311.2,355.7 307.4,355.3 303.6,354.9 299.9,354.5 296.2,354.1 292.5,353.6 288.8,353.2 285.1,352.7 281.5,352.1 277.8,351.6 274.2,351.0 270.7,350.4 267.1,349.7 263.6,349.1 260.0,348.4 256.6,347.7 253.1,347.0 249.7,346.2 246.3,345.4 242.9,344.6 239.5,343.8 236.2,343.0 232.9,342.1 229.7,341.2 226.4,340.3 223.2,339.4 220.1,338.5 217.0,337.5 213.9,336.5 210.8,335.5 207.8,334.5 204.8,333.5 201.9,332.4 199.0,331.3 196.1,330.2 193.3,329.1 190.5,328.0 187.7,326.8 185.0,325.6 182.4,324.5 179.7,323.3 177.1,322.0 174.6,320.8 172.1,319.6 169.6,318.3 167.2,317.0 164.8,315.7 162.5,314.4 160.2,313.1 158.0,311.8 155.8,310.4 153.6,309.1 151.5,307.7 149.4,306.3 147.4,304.9 145.4,303.5 143.5,302.1 141.6,300.7 139.8,299.3 138.0,297.8 136.2,296.4 134.5,294.9 132.9,293.5 131.3,292.0 129.7,290.5 128.2,289.0 126.8,287.5 125.3,286.0 124.0,284.5 122.6,283.0 121.4,281.5 120.1,280.0 118.9,278.4 117.8,276.9 116.7,275.4 115.7,273.8 114.7,272.3 113.7,270.7 112.8,269.2 111.9,267.6 111.1,266.1 110.4,264.5 109.6,262.9 109.0,261.4 108.3,259.8 107.7,258.2 107.2,256.7 106.7,255.1 106.2,253.6 105.8,252.0 105.5,250.4 105.2,248.9 104.9,247.3 104.6,245.7 L110.7,301.0 110.9,302.6 111.2,304.2 111.5,305.9 111.9,307.5 112.3,309.2 112.8,310.8 113.3,312.5 113.8,314.1 114.4,315.8 115.0,317.4 115.7,319.1 116.4,320.7 117.2,322.3 118.0,324.0 118.9,325.6 119.8,327.2 120.7,328.9 121.7,330.5 122.7,332.1 123.8,333.7 124.9,335.3 126.1,337.0 127.3,338.6 128.6,340.2 129.9,341.7 131.2,343.3 132.6,344.9 134.1,346.5 135.6,348.0 137.1,349.6 138.7,351.2 140.3,352.7 142.0,354.2 143.7,355.7 145.5,357.3 147.3,358.8 149.1,360.2 151.0,361.7 153.0,363.2 154.9,364.7 157.0,366.1 159.0,367.5 161.2,369.0 163.3,370.4 165.5,371.8 167.8,373.1 170.1,374.5 172.4,375.9 174.8,377.2 177.2,378.5 179.6,379.8 182.1,381.1 184.7,382.4 187.2,383.7 189.8,384.9 192.5,386.1 195.2,387.3 197.9,388.5 200.7,389.7 203.5,390.8 206.4,392.0 209.2,393.1 212.1,394.2 215.1,395.3 218.1,396.3 221.1,397.4 224.2,398.4 227.3,399.4 230.4,400.3 233.5,401.3 236.7,402.2 239.9,403.1 243.2,404.0 246.4,404.8 249.7,405.7 253.1,406.5 256.4,407.3 259.8,408.0 263.2,408.8 266.6,409.5 270.1,410.2 273.6,410.8 277.1,411.5 280.6,412.1 284.1,412.6 287.7,413.2 291.3,413.7 294.9,414.2 298.5,414.7 302.1,415.2 305.8,415.6 309.4,416.0 313.1,416.4 316.8,416.7 320.5,417.1 324.2,417.3 328.0,417.6 331.7,417.8 335.4,418.1 339.2,418.2 342.9,418.4 346.7,418.5 350.5,418.6 354.2,418.7 358.0,418.7 361.8,418.7 365.6,418.7 369.3,418.7 373.1,418.6 376.9,418.5 380.7,418.4 384.4,418.2 388.2,418.1 391.9,417.8 395.7,417.6 399.4,417.3 403.2,417.1 406.9,416.7 Z" fill="url(#oSide)" stroke="url(#oSide)" stroke-width="0.5"/>
<path d="M366.4,215.2 L407.2,356.0 403.4,356.3 399.6,356.6 395.8,356.9 391.9,357.1 388.1,357.3 384.2,357.5 380.4,357.6 376.5,357.7 372.6,357.8 368.8,357.9 364.9,357.9 361.0,357.9 357.2,357.9 353.3,357.9 349.4,357.8 345.6,357.7 341.7,357.6 337.9,357.5 334.0,357.3 330.2,357.1 326.4,356.9 322.5,356.6 318.7,356.3 314.9,356.0 311.2,355.7 307.4,355.3 303.6,354.9 299.9,354.5 296.2,354.1 292.5,353.6 288.8,353.2 285.1,352.7 281.5,352.1 277.8,351.6 274.2,351.0 270.7,350.4 267.1,349.7 263.6,349.1 260.0,348.4 256.6,347.7 253.1,347.0 249.7,346.2 246.3,345.4 242.9,344.6 239.5,343.8 236.2,343.0 232.9,342.1 229.7,341.2 226.4,340.3 223.2,339.4 220.1,338.5 217.0,337.5 213.9,336.5 210.8,335.5 207.8,334.5 204.8,333.5 201.9,332.4 199.0,331.3 196.1,330.2 193.3,329.1 190.5,328.0 187.7,326.8 185.0,325.6 182.4,324.5 179.7,323.3 177.1,322.0 174.6,320.8 172.1,319.6 169.6,318.3 167.2,317.0 164.8,315.7 162.5,314.4 160.2,313.1 158.0,311.8 155.8,310.4 153.6,309.1 151.5,307.7 149.4,306.3 147.4,304.9 145.4,303.5 143.5,302.1 141.6,300.7 139.8,299.3 138.0,297.8 136.2,296.4 134.5,294.9 132.9,293.5 131.3,292.0 129.7,290.5 128.2,289.0 126.8,287.5 125.3,286.0 124.0,284.5 122.6,283.0 121.4,281.5 120.1,280.0 118.9,278.4 117.8,276.9 116.7,275.4 115.7,273.8 114.7,272.3 113.7,270.7 112.8,269.2 111.9,267.6 111.1,266.1 110.4,264.5 109.6,262.9 109.0,261.4 108.3,259.8 107.7,258.2 107.2,256.7 106.7,255.1 106.2,253.6 105.8,252.0 105.5,250.4 105.2,248.9 104.9,247.3 104.6,245.7 104.5,244.2 104.3,242.6 104.2,241.1 104.1,239.5 104.1,238.0 104.2,236.4 104.2,234.9 104.3,233.3 104.5,231.8 104.7,230.3 104.9,228.8 105.2,227.2 105.5,225.7 105.8,224.2 106.2,222.7 106.6,221.2 107.1,219.7 107.6,218.2 108.2,216.7 108.7,215.2 109.4,213.8 110.0,212.3 110.7,210.8 111.5,209.4 112.2,207.9 113.0,206.5 113.9,205.1 114.7,203.6 115.6,202.2 116.6,200.8 117.6,199.4 118.6,198.0 119.6,196.6 120.7,195.3 121.8,193.9 122.9,192.5 124.1,191.2 125.3,189.8 126.5,188.5 127.8,187.2 129.1,185.9 130.4,184.6 131.8,183.3 133.2,182.0 134.6,180.7 136.0,179.4 137.5,178.2 139.0,176.9 140.5,175.7 142.1,174.5 143.7,173.3 145.3,172.1 146.9,170.9 148.6,169.7 150.3,168.5 152.0,167.4 153.7,166.2 155.5,165.1 157.3,164.0 159.1,162.8 160.9,161.7 162.8,160.6 164.7,159.6 166.6,158.5 168.5,157.4 170.4,156.4 172.4,155.4 174.4,154.3 176.4,153.3 178.4,152.3 180.5,151.3 182.6,150.4 184.7,149.4 186.8,148.5 188.9,147.5 191.0,146.6 193.2,145.7 195.4,144.8 197.6,143.9 199.8,143.0 202.0,142.1 204.3,141.3 206.6,140.5 208.8,139.6 211.1,138.8 213.5,138.0 215.8,137.2 218.1,136.5 220.5,135.7 222.9,134.9 225.3,134.2 227.7,133.5 230.1,132.8 232.5,132.1 234.9,131.4 237.4,130.7 239.9,130.1 242.3,129.4 244.8,128.8 247.3,128.2 249.8,127.5 252.4,127.0 254.9,126.4 257.5,125.8 260.0,125.3 262.6,124.7 265.1,124.2 267.7,123.7 270.3,123.2 272.9,122.7 275.5,122.2 278.1,121.7 280.8,121.3 283.4,120.9 286.0,120.4 288.7,120.0 291.3,119.6 294.0,119.2 296.7,118.9 299.3,118.5 302.0,118.2 304.7,117.8 Z" fill="url(#oTop)" stroke="url(#oTop)" stroke-width="0.8" stroke-linejoin="round"/>
<path d="M407.2,356.0 403.4,356.3 399.6,356.6 395.8,356.9 391.9,357.1 388.1,357.3 384.2,357.5 380.4,357.6 376.5,357.7 372.6,357.8 368.8,357.9 364.9,357.9 361.0,357.9 357.2,357.9 353.3,357.9 349.4,357.8 345.6,357.7 341.7,357.6 337.9,357.5 334.0,357.3 330.2,357.1 326.4,356.9 322.5,356.6 318.7,356.3 314.9,356.0 311.2,355.7 307.4,355.3 303.6,354.9 299.9,354.5 296.2,354.1 292.5,353.6 288.8,353.2 285.1,352.7 281.5,352.1 277.8,351.6 274.2,351.0 270.7,350.4 267.1,349.7 263.6,349.1 260.0,348.4 256.6,347.7 253.1,347.0 249.7,346.2 246.3,345.4 242.9,344.6 239.5,343.8 236.2,343.0 232.9,342.1 229.7,341.2 226.4,340.3 223.2,339.4 220.1,338.5 217.0,337.5 213.9,336.5 210.8,335.5 207.8,334.5 204.8,333.5 201.9,332.4 199.0,331.3 196.1,330.2 193.3,329.1 190.5,328.0 187.7,326.8 185.0,325.6 182.4,324.5 179.7,323.3 177.1,322.0 174.6,320.8 172.1,319.6 169.6,318.3 167.2,317.0 164.8,315.7 162.5,314.4 160.2,313.1 158.0,311.8 155.8,310.4 153.6,309.1 151.5,307.7 149.4,306.3 147.4,304.9 145.4,303.5 143.5,302.1 141.6,300.7 139.8,299.3 138.0,297.8 136.2,296.4 134.5,294.9 132.9,293.5 131.3,292.0 129.7,290.5 128.2,289.0 126.8,287.5 125.3,286.0 124.0,284.5 122.6,283.0 121.4,281.5 120.1,280.0 118.9,278.4 117.8,276.9 116.7,275.4 115.7,273.8 114.7,272.3 113.7,270.7 112.8,269.2 111.9,267.6 111.1,266.1 110.4,264.5 109.6,262.9 109.0,261.4 108.3,259.8 107.7,258.2 107.2,256.7 106.7,255.1 106.2,253.6 105.8,252.0 105.5,250.4 105.2,248.9 104.9,247.3 104.6,245.7 104.5,244.2 104.3,242.6 104.2,241.1 104.1,239.5 104.1,238.0 104.2,236.4 104.2,234.9 104.3,233.3 104.5,231.8 104.7,230.3 104.9,228.8 105.2,227.2 105.5,225.7 105.8,224.2 106.2,222.7 106.6,221.2 107.1,219.7 107.6,218.2 108.2,216.7 108.7,215.2 109.4,213.8 110.0,212.3 110.7,210.8 111.5,209.4 112.2,207.9 113.0,206.5 113.9,205.1 114.7,203.6 115.6,202.2 116.6,200.8 117.6,199.4 118.6,198.0 119.6,196.6 120.7,195.3 121.8,193.9 122.9,192.5 124.1,191.2 125.3,189.8 126.5,188.5 127.8,187.2 129.1,185.9 130.4,184.6 131.8,183.3 133.2,182.0 134.6,180.7 136.0,179.4 137.5,178.2 139.0,176.9 140.5,175.7 142.1,174.5 143.7,173.3 145.3,172.1 146.9,170.9 148.6,169.7 150.3,168.5 152.0,167.4 153.7,166.2 155.5,165.1 157.3,164.0 159.1,162.8 160.9,161.7 162.8,160.6 164.7,159.6 166.6,158.5 168.5,157.4 170.4,156.4 172.4,155.4 174.4,154.3 176.4,153.3 178.4,152.3 180.5,151.3 182.6,150.4 184.7,149.4 186.8,148.5 188.9,147.5 191.0,146.6 193.2,145.7 195.4,144.8 197.6,143.9 199.8,143.0 202.0,142.1 204.3,141.3 206.6,140.5 208.8,139.6 211.1,138.8 213.5,138.0 215.8,137.2 218.1,136.5 220.5,135.7 222.9,134.9 225.3,134.2 227.7,133.5 230.1,132.8 232.5,132.1 234.9,131.4 237.4,130.7 239.9,130.1 242.3,129.4 244.8,128.8 247.3,128.2 249.8,127.5 252.4,127.0 254.9,126.4 257.5,125.8 260.0,125.3 262.6,124.7 265.1,124.2 267.7,123.7 270.3,123.2 272.9,122.7 275.5,122.2 278.1,121.7 280.8,121.3 283.4,120.9 286.0,120.4 288.7,120.0 291.3,119.6 294.0,119.2 296.7,118.9 299.3,118.5 302.0,118.2 304.7,117.8" fill="none" stroke="#ffb080" stroke-opacity="0.3" stroke-width="1"/>
<path transform="translate(-0.6 0.6)" d="M325.8,113.3 326.0,113.2 326.3,113.2 326.6,113.2 326.8,113.1 327.1,113.1 327.4,113.1 327.6,113.0 327.9,113.0 328.2,113.0 328.4,112.9 328.7,112.9 329.0,112.9 329.2,112.9 329.5,112.8 329.8,112.8 330.0,112.8 330.3,112.7 330.6,112.7 330.8,112.7 331.1,112.6 331.4,112.6 331.6,112.6 331.9,112.6 332.2,112.5 332.4,112.5 332.7,112.5 333.0,112.4 333.2,112.4 333.5,112.4 333.8,112.4 334.0,112.3 334.3,112.3 334.6,112.3 334.8,112.3 335.1,112.2 335.4,112.2 335.6,112.2 335.9,112.1 336.2,112.1 336.4,112.1 336.7,112.1 337.0,112.0 337.2,112.0 337.5,112.0 337.8,112.0 338.0,111.9 338.3,111.9 338.6,111.9 338.8,111.9 339.1,111.8 339.4,111.8 339.7,111.8 339.9,111.8 340.2,111.7 340.5,111.7 340.7,111.7 341.0,111.7 341.3,111.6 341.5,111.6 341.8,111.6 342.1,111.6 342.3,111.5 342.6,111.5 342.9,111.5 343.1,111.5 343.4,111.5 343.7,111.4 343.9,111.4 344.2,111.4 344.5,111.4 344.8,111.3 345.0,111.3 345.3,111.3 345.6,111.3 345.8,111.2 346.1,111.2 346.4,111.2 346.6,111.2 346.9,111.2 347.2,111.1 347.4,111.1 347.7,111.1 348.0,111.1 348.3,111.1 348.5,111.0 348.8,111.0 349.1,111.0 349.3,111.0 349.6,111.0 349.9,110.9 350.1,110.9 350.4,110.9 350.7,110.9 351.0,110.9 351.2,110.8 351.5,110.8 351.8,110.8 352.0,110.8 352.3,110.8 352.6,110.7 352.8,110.7 353.1,110.7 353.4,110.7 353.7,110.7 353.9,110.7 354.2,110.6 354.5,110.6 354.7,110.6 355.0,110.6 355.3,110.6 355.5,110.5 355.8,110.5 356.1,110.5 356.4,110.5 356.6,110.5 356.9,110.5 357.2,110.4 357.4,110.4 357.7,110.4 358.0,110.4 358.3,110.4 358.5,110.4 358.8,110.4 359.1,110.3 359.3,110.3 359.6,110.3 359.9,110.3 360.2,110.3 360.4,110.3 360.7,110.2 361.0,110.2 361.2,110.2 361.5,110.2 361.8,110.2 362.0,110.2 362.3,110.2 362.6,110.1 362.9,110.1 363.1,110.1 363.4,110.1 363.7,110.1 363.9,110.1 364.2,110.1 364.5,110.1 364.8,110.0 365.0,110.0 365.3,110.0 365.6,110.0 365.8,110.0 366.1,110.0 366.4,110.0 366.7,110.0 366.9,109.9 367.2,109.9 367.5,109.9 367.7,109.9 368.0,109.9 368.3,109.9 368.6,109.9 368.8,109.9 369.1,109.9 369.4,109.8 369.7,109.8 369.9,109.8 370.2,109.8 370.5,109.8 370.7,109.8 371.0,109.8 371.3,109.8 371.6,109.8 371.8,109.8 372.1,109.8 372.4,109.7 372.6,109.7 372.9,109.7 373.2,109.7 373.5,109.7 373.7,109.7 374.0,109.7 374.3,109.7 374.5,109.7 374.8,109.7 375.1,109.7 375.4,109.7 375.6,109.6 375.9,109.6 376.2,109.6 376.5,109.6 376.7,109.6 377.0,109.6 377.3,109.6 377.5,109.6 377.8,109.6 378.1,109.6 378.4,109.6 378.6,109.6 378.9,109.6 379.2,109.6 379.4,109.6 379.7,109.6 380.0,109.5 380.3,109.5 380.5,109.5 380.8,109.5 381.1,109.5 381.4,109.5 381.6,109.5 381.9,109.5 382.2,109.5 382.4,109.5 382.7,109.5 383.0,109.5 383.3,109.5 383.5,109.5 383.8,109.5 384.1,109.5 384.3,109.5 384.6,109.5 384.9,109.5 385.2,109.5 385.4,109.5 385.7,109.5 386.0,109.5 386.3,109.5 386.5,109.5 386.8,109.5 387.1,109.5 387.3,109.5 387.6,109.5 387.9,109.5 388.2,109.5 388.4,109.5 388.7,109.4 389.0,109.4 389.3,109.4 389.5,109.4 389.8,109.4 390.1,109.4 390.3,109.4 390.6,109.4" fill="none" stroke="#d0d0d0" stroke-opacity="0.4" stroke-width="1"/>
</svg>
<div class="t" id="title">每月钟表质量报告<span class="ls">-2022</span>年<span class="ls2">11</span>月投诉原因分布</div>
<div class="t lbl" style="left:586px;top:193px;color:#e4ecf5;">10; 47.6%</div>
<div class="t lbl" style="left:116px;top:239px;color:#f6e2d2;">10; 47.6%</div>
<div class="t lbl" style="left:339px;top:119px;color:#dedede;">1; 4.8%</div>
<div class="sq" style="left:283px;top:468px;background:#5b9bd5;"></div>
<div class="t lg" style="left:290px;top:464.5px;">产品质量</div>
<div class="sq" style="left:378px;top:468px;background:#ed7d31;"></div>
<div class="t lg" style="left:384.5px;top:464.5px;">销售纠纷</div>
<div class="sq" style="left:472px;top:468px;background:#a5a5a5;"></div>
<div class="t lg" style="left:479px;top:464.5px;">售后服务</div>
<div class="t" id="wm"><b>头条</b> <span style="font-size:22.5px;margin-left:-2px;margin-right:-0.5px">@</span>邱小铖</div>
</div></body></html>
